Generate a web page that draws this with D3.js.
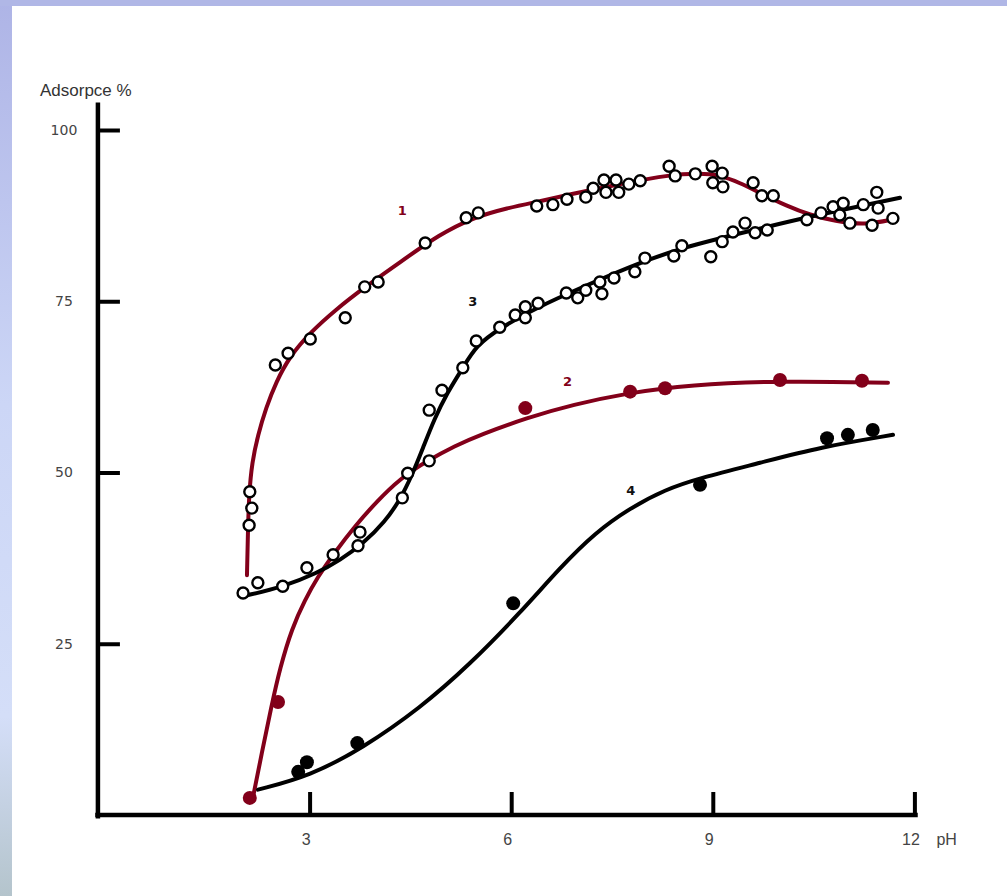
<!DOCTYPE html>
<html>
<head>
<meta charset="utf-8">
<script src="https://cdn.jsdelivr.net/npm/d3@7"></script>
<style>
  html, body { margin: 0; padding: 0; background: #ffffff; }
  svg { display: block; }
  .narrow { font-family: "Liberation Sans Narrow", "Arial Narrow", "Liberation Sans", sans-serif; }
</style>
</head>
<body>
<svg id="chart" width="1007" height="896"></svg>
<script>
// Adsorption (%) versus pH — four measured series with fitted curves.

// Series 1: open circles, dark red fitted curve
const s1Points = [
  [2.11, 47.2], [2.14, 44.8], [2.10, 42.3], [2.49, 65.7], [2.68, 67.4], [3.01, 69.5],
  [3.53, 72.6], [3.82, 77.1], [4.02, 77.8], [4.72, 83.5], [5.33, 87.2], [5.51, 87.9],
  [6.38, 88.9], [6.62, 89.1], [6.83, 89.9], [7.11, 90.2], [7.22, 91.5], [7.38, 92.7],
  [7.41, 90.9], [7.56, 92.7], [7.60, 90.9], [7.75, 92.1], [7.92, 92.6], [8.35, 94.7],
  [8.44, 93.3], [8.74, 93.6], [8.99, 94.7], [9.14, 93.7], [9.00, 92.3], [9.15, 91.7],
  [9.60, 92.3], [9.73, 90.4], [9.90, 90.4], [11.04, 86.4], [11.37, 86.1], [11.68, 87.1]
];
const s1Curve = [
  [2.068, 35.0], [2.083, 41.6], [2.098, 46.7], [2.143, 51.5], [2.232, 55.5], [2.351, 59.4],
  [2.500, 63.2], [2.708, 67.0], [3.006, 70.4], [3.378, 73.7], [3.839, 77.2], [4.345, 80.7],
  [4.940, 84.8], [5.432, 87.2], [5.938, 88.6], [6.429, 89.6], [6.920, 90.7], [7.321, 91.5],
  [7.723, 92.3], [8.318, 93.4], [8.810, 93.7], [9.107, 93.4], [9.405, 92.3], [9.702, 90.8],
  [10.104, 88.9], [10.446, 87.6], [10.818, 86.7], [11.265, 86.1], [11.711, 87.0]
];

// Series 2: filled dark red points and curve
const s2Points = [
  [2.11, 2.5], [2.53, 16.5], [6.21, 59.4], [7.77, 61.8], [8.29, 62.3], [10.0, 63.5], [11.22, 63.4]
];
const s2Curve = [
  [2.158, 2.6], [2.292, 9.2], [2.426, 15.6], [2.560, 21.5], [2.738, 27.3], [2.932, 31.4],
  [3.110, 34.6], [3.378, 38.4], [3.676, 42.2], [4.003, 45.8], [4.345, 49.1], [4.747, 51.7],
  [5.164, 53.9], [5.536, 55.5], [6.235, 58.0], [6.920, 59.9], [7.723, 61.6], [8.661, 62.8],
  [10.0, 63.4], [11.607, 63.1]
];

// Series 3: open circles, black curve
const s3Points = [
  [2.01, 32.4], [2.23, 33.9], [2.60, 33.4], [2.96, 36.1], [3.35, 38.0], [3.72, 39.3],
  [3.75, 41.3], [4.38, 46.3], [4.46, 49.9], [4.78, 51.7], [4.78, 59.1], [4.97, 62.0],
  [5.28, 65.3], [5.48, 69.2], [5.83, 71.2], [6.06, 73.0], [6.21, 74.2], [6.21, 72.6],
  [6.40, 74.7], [6.82, 76.2], [6.99, 75.5], [7.11, 76.6], [7.32, 77.8], [7.35, 76.1],
  [7.53, 78.4], [7.84, 79.3], [7.99, 81.3], [8.42, 81.6], [8.54, 83.1], [8.97, 81.5],
  [9.14, 83.7], [9.30, 85.1], [9.48, 86.4], [9.63, 85.0], [9.81, 85.4], [10.40, 86.9],
  [10.61, 87.9], [10.79, 88.8], [10.94, 89.3], [10.89, 87.6], [11.24, 89.1], [11.44, 90.9],
  [11.46, 88.6]
];
const s3Curve = [
  [2.039, 32.0], [2.604, 33.3], [3.110, 35.3], [3.452, 37.2], [3.795, 39.6], [4.122, 42.8],
  [4.345, 46.0], [4.524, 49.6], [4.688, 53.6], [4.851, 57.7], [5.045, 61.6], [5.283, 65.3],
  [5.476, 68.5], [5.833, 71.1], [6.429, 74.3], [7.024, 76.9], [7.723, 79.9], [8.512, 82.8],
  [9.702, 85.6], [10.402, 87.3], [11.786, 90.1]
];

// Series 4: filled black points and curve
const s4Points = [
  [2.83, 6.3], [2.96, 7.7], [3.71, 10.5], [6.03, 30.9], [8.81, 48.2], [10.70, 55.0], [11.01, 55.5], [11.38, 56.2]
];
const s4Curve = [
  [2.232, 3.7], [3.006, 5.7], [3.795, 9.8], [4.643, 15.6], [5.387, 22.0], [6.131, 29.5],
  [6.726, 36.1], [7.247, 41.2], [7.768, 44.8], [8.289, 47.5], [8.810, 49.2], [9.702, 51.4],
  [10.595, 53.7], [11.682, 55.5]
];

// Axis ticks and labels
const xTicks = [3, 6, 9, 12];
const yTicks = [25, 50, 75, 100];
const curveLabels = [
  { text: "1", pH: 4.38, value: 88.2, color: "#82001a" },
  { text: "2", pH: 6.84, value: 63.3, color: "#82001a" },
  { text: "3", pH: 5.43, value: 75.0, color: "#111111" },
  { text: "4", pH: 7.78, value: 47.4, color: "#111111" }
];

const RED = "#82001a";
const svg = d3.select("#chart");
const W = 1007, H = 896;

// Background: lavender frame on the left and top edges
const defs = svg.append("defs");
const grad = defs.append("linearGradient").attr("id", "frame").attr("x1", 0).attr("y1", 0).attr("x2", 0).attr("y2", 1);
grad.append("stop").attr("offset", "0%").attr("stop-color", "#aeb4e6");
grad.append("stop").attr("offset", "45%").attr("stop-color", "#ccd6f6");
grad.append("stop").attr("offset", "80%").attr("stop-color", "#d4def8");
grad.append("stop").attr("offset", "100%").attr("stop-color", "#b4c4cc");
svg.append("rect").attr("width", W).attr("height", H).attr("fill", "url(#frame)");
svg.append("rect").attr("x", 0).attr("y", 0).attr("width", W).attr("height", 6).attr("fill", "#b0b7e6");
svg.append("rect").attr("x", 12).attr("y", 6).attr("width", W - 12).attr("height", H - 6).attr("fill", "#ffffff");

// Scales
const x = d3.scaleLinear().domain([0, 12]).range([108, 108 + 12 * 67.2]);
const y = d3.scaleLinear().domain([0, 100]).range([815, 130]);

// Axes
const axisColor = "#000000";
const yAxis = svg.append("g").attr("transform", `translate(${x(-0.15)},0)`)
  .call(d3.axisLeft(y).tickValues(yTicks).tickSizeInner(-22).tickSizeOuter(0).tickPadding(0));
yAxis.select(".domain").remove();
yAxis.selectAll(".tick line").attr("stroke", axisColor).attr("stroke-width", 4);
yAxis.selectAll(".tick text")
  .attr("x", -34).attr("text-anchor", "middle")
  .attr("font-family", "'DejaVu Sans', Verdana, sans-serif").attr("font-size", 14).attr("fill", "#444");

const xAxis = svg.append("g").attr("transform", `translate(0,${y(0)})`)
  .call(d3.axisBottom(x).tickValues(xTicks).tickSizeInner(-23).tickSizeOuter(0).tickPadding(19));
xAxis.select(".domain").remove();
xAxis.selectAll(".tick line").attr("stroke", axisColor).attr("stroke-width", 4);
xAxis.selectAll(".tick text")
  .attr("class", "narrow").attr("dx", -4)
  .attr("font-size", 16).attr("fill", "#444");

// Axis lines
svg.append("line")
  .attr("x1", x(-0.15)).attr("x2", x(-0.15))
  .attr("y1", y(104)).attr("y2", y(-0.5))
  .attr("stroke", axisColor).attr("stroke-width", 4.5);
svg.append("line")
  .attr("x1", x(-0.19)).attr("x2", x(12.05))
  .attr("y1", y(0)).attr("y2", y(0))
  .attr("stroke", axisColor).attr("stroke-width", 4.5);

// Axis titles
svg.append("text").attr("class", "narrow")
  .attr("x", 40).attr("y", 96)
  .attr("font-size", 17).attr("fill", "#333")
  .text("Adsorpce %");
svg.append("text").attr("class", "narrow")
  .attr("x", x(12) + 22).attr("y", y(0) + 19).attr("dy", "0.71em")
  .attr("font-size", 16).attr("fill", "#444")
  .text("pH");

// Fitted curves (smoothing B-spline through the traced knots)
const line = d3.line()
  .x(d => x(d[0])).y(d => y(d[1]))
  .curve(d3.curveBasis);

const curves = [
  { data: s2Curve, color: RED },
  { data: s1Curve, color: RED },
  { data: s4Curve, color: "#000" },
  { data: s3Curve, color: "#000" }
];
svg.append("g").selectAll("path").data(curves).join("path")
  .attr("d", d => line(d.data))
  .attr("fill", "none")
  .attr("stroke", d => d.color)
  .attr("stroke-width", 4)
  .attr("stroke-linecap", "round")
  .attr("stroke-linejoin", "round");

// Markers
function openCircles(data) {
  svg.append("g").selectAll("circle").data(data).join("circle")
    .attr("cx", d => x(d[0])).attr("cy", d => y(d[1]))
    .attr("r", 5.5)
    .attr("fill", "#fff").attr("stroke", "#000").attr("stroke-width", 2.4);
}
function filledCircles(data, color) {
  svg.append("g").selectAll("circle").data(data).join("circle")
    .attr("cx", d => x(d[0])).attr("cy", d => y(d[1]))
    .attr("r", 7)
    .attr("fill", color);
}
openCircles(s1Points);
openCircles(s3Points);
filledCircles(s2Points, RED);
filledCircles(s4Points, "#000");

// Curve numbers
svg.append("g").selectAll("text").data(curveLabels).join("text")
  .attr("x", d => x(d.pH)).attr("y", d => y(d.value))
  .attr("dy", "0.35em").attr("text-anchor", "middle")
  .attr("font-family", "'DejaVu Sans', Verdana, sans-serif")
  .attr("font-weight", "bold").attr("font-size", 13)
  .attr("fill", d => d.color)
  .text(d => d.text);
</script>
</body>
</html>
